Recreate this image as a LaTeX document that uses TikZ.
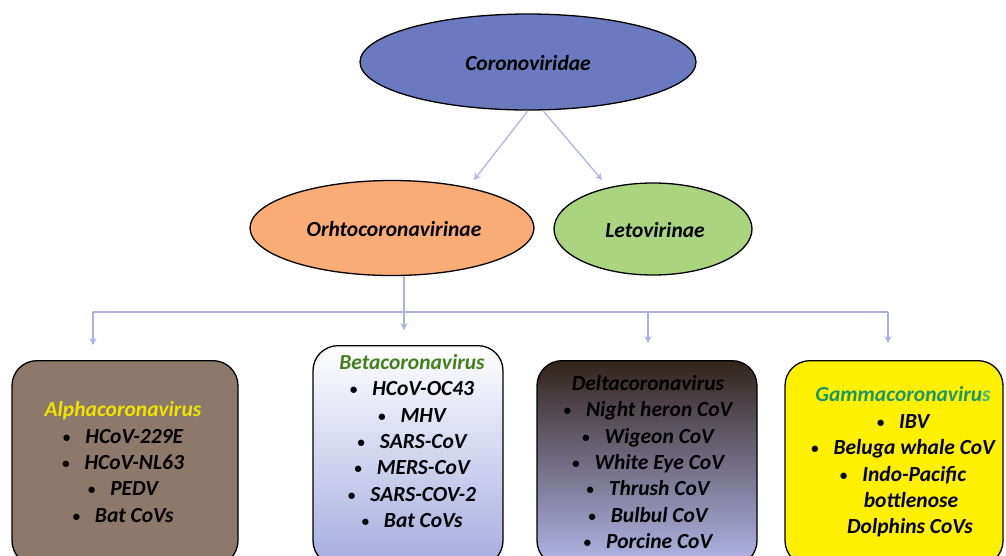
\documentclass[tikz,border=0pt]{standalone}
\usepackage{fontspec}
\setmainfont{Carlito}
\usetikzlibrary{arrows.meta,shapes.geometric,calc}
\definecolor{corfill}{RGB}{107,122,190}
\definecolor{orhfill}{RGB}{250,172,118}
\definecolor{letfill}{RGB}{170,212,128}
\definecolor{linkc}{RGB}{170,178,226}
\definecolor{alphafill}{RGB}{140,121,108}
\definecolor{alphatitle}{RGB}{238,228,0}
\definecolor{betatitle}{RGB}{66,128,30}
\definecolor{lav}{RGB}{166,172,224}
\definecolor{deltatop}{RGB}{50,36,28}
\definecolor{deltabot}{RGB}{178,182,234}
\definecolor{gammafill}{RGB}{255,240,0}
\definecolor{gammatitle}{RGB}{30,150,105}
\definecolor{gammas}{RGB}{70,185,140}
\tikzset{
  ell/.style={ellipse, draw=black, line width=1.3pt, inner sep=0pt},
  lbl/.style={font=\fontsize{21.5}{26}\selectfont\bfseries\itshape, inner sep=0pt},
  txt/.style={font=\fontsize{21.5}{26.4}\selectfont\bfseries\itshape, align=center, inner sep=0pt},
  box/.style={draw=black, line width=1.3pt, rounded corners=25pt, anchor=north, inner sep=0pt},
  conn/.style={draw=linkc, line width=1.2pt, -{Stealth[length=7pt,width=7pt,inset=2.5pt]}},
  wire/.style={draw=linkc, line width=1.2pt}
}
\newcommand{\bul}{\raisebox{1pt}{\fontsize{15}{15}\selectfont\textbullet}\hspace{15pt}}
\begin{document}
\begin{tikzpicture}[x=1pt,y=-1pt]
\useasboundingbox (0,0) rectangle (1006,555);
\clip (0,0) rectangle (1006,555);
\fill[white] (0,0) rectangle (1006,555);

% ellipses
\node[ell, fill=corfill, minimum width=336pt, minimum height=96pt] (coron) at (528,62) {};
\node[lbl] (coronl) at (528,63) {Coronoviridae};
\node[ell, fill=orhfill, minimum width=284pt, minimum height=95pt] (orth) at (392,228) {};
\node[lbl] (orthl) at (394,229) {Orhtocoronavirinae};
\node[ell, fill=letfill, minimum width=198pt, minimum height=92pt] (leto) at (653,229) {};
\node[lbl] (letol) at (655,230) {Letovirinae};

% boxes
\node[box, fill=alphafill, minimum width=226pt, minimum height=205pt] (alpha) at (125,360) {};
\node[box, top color=white, bottom color=lav, minimum width=190pt, minimum height=220pt] (beta) at (408,345) {};
\node[box, top color=deltatop, bottom color=deltabot, minimum width=220pt, minimum height=205pt] (delta) at (647,360) {};
\node[box, fill=gammafill, minimum width=218pt, minimum height=205pt] (gamma) at (894,360) {};

% box texts
\node[txt] (alphat) at (123,462) {\textcolor{alphatitle}{Alphacoronavirus}\\ \bul HCoV-229E\\ \bul HCoV-NL63\\ \bul PEDV\\ \bul Bat CoVs};
\node[txt] (betat) at (412,441) {\textcolor{betatitle}{Betacoronavirus}\\ \bul HCoV-OC43\\ \bul MHV\\ \bul SARS-CoV\\ \bul MERS-CoV\\ \bul SARS-COV-2\\ \bul Bat CoVs};
\node[txt] (deltat) at (648,462) {Deltacoronavirus\\ \bul Night heron CoV\\ \bul Wigeon CoV\\ \bul White Eye CoV\\ \bul Thrush CoV\\ \bul Bulbul CoV\\ \bul Porcine CoV};
\node[txt] (gammat) at (903,462) {\textcolor{gammatitle}{Gammacoronaviru}\textcolor{gammas}{s}\\ \bul IBV\\ \bul Beluga whale CoV\\ \bul Indo-Pacific\\ \hspace{16pt}bottlenose\\ \hspace{14pt}Dolphins CoVs};

% connectors top
\coordinate (orthin) at (474,180);
\coordinate (letoin) at (602,180);
\draw[conn] (coron.south) -- (orthin);
\draw[conn] ($(coron.south)+(15,0)$) -- (letoin);

% tree
\coordinate (hub) at (404,312);
\coordinate (barL) at (93,312);
\coordinate (barD) at (648,312);
\coordinate (barR) at (888,312);
\draw[wire] (hub |- orth.south) -- (hub);
\draw[wire] (barL) -- (barR);
\draw[conn, shorten >=15pt] (hub) -- (hub |- beta.north);
\draw[conn, shorten >=15pt] (barL) -- (barL |- alpha.north);
\draw[conn, shorten >=17pt] (barD) -- (barD |- delta.north);
\draw[conn, shorten >=17pt] (barR) -- (barR |- gamma.north);
\end{tikzpicture}
\end{document}
